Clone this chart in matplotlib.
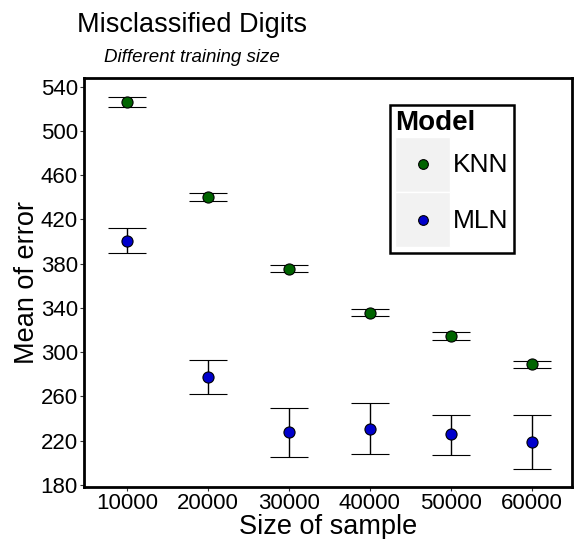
import matplotlib.pyplot as plt
from matplotlib.legend_handler import HandlerBase
from matplotlib.lines import Line2D
from matplotlib.patches import Rectangle

plt.rcParams["font.family"] = ["Liberation Sans", "DejaVu Sans"]

sizes = [10000, 20000, 30000, 40000, 50000, 60000]

knn_mean = [526.4, 440.3, 375.3, 335.5, 314.6, 289.1]
knn_low = [522.2, 436.7, 372.4, 332.8, 311.2, 286.1]
knn_high = [530.5, 444.4, 378.4, 338.6, 317.9, 292.1]

mln_mean = [400.8, 277.7, 227.4, 230.7, 225.6, 218.4]
mln_low = [389.4, 262.2, 204.9, 207.6, 207.3, 194.1]
mln_high = [412.5, 293.0, 249.8, 254.1, 242.9, 242.7]


class KeyHandler(HandlerBase):
    # grey key box with the point drawn in the middle, like ggplot
    def create_artists(self, legend, orig_handle, xdescent, ydescent,
                       width, height, fontsize, trans):
        rect = Rectangle((-xdescent, -ydescent), width, height,
                         facecolor="#F2F2F2", edgecolor="white", lw=1,
                         transform=trans)
        dot = Line2D([width / 2 - xdescent], [height / 2 - ydescent],
                     marker="o", ls="none", ms=7,
                     mfc=orig_handle.get_markerfacecolor(), mec="black",
                     mew=0.8, transform=trans)
        return [rect, dot]


fig = plt.figure(figsize=(5.75, 5.39), dpi=100)
ax = fig.add_axes([84 / 575, 1 - 487 / 539, 488 / 575, 409 / 539])

series = [
    ("KNN", knn_mean, knn_low, knn_high, "#006400"),
    ("MLN", mln_mean, mln_low, mln_high, "#0000CC"),
]
handles = []
for name, mean, low, high, col in series:
    yerr = [[m - l for m, l in zip(mean, low)], [h - m for m, h in zip(mean, high)]]
    cont = ax.errorbar(sizes, mean, yerr=yerr, fmt="o", ms=8, mfc=col,
                       mec="black", mew=0.8, ecolor="black", elinewidth=1,
                       capsize=14, capthick=1, label=name, zorder=3)
    handles.append(cont[0])

ax.set_xlim(4700, 65000)
ax.set_ylim(178, 548)
ax.set_xticks(sizes)
ax.set_yticks(range(180, 541, 40))
ax.tick_params(labelsize=16, length=3, width=0.8, color="#333333", pad=1.5)
ax.tick_params(axis="x", pad=1)
for s in ax.spines.values():
    s.set_linewidth(2)

ax.set_xlabel("Size of sample", fontsize=19.5, labelpad=0)
ax.set_ylabel("Mean of error", fontsize=19.5, labelpad=0)

fig.text(77 / 575, 1 - 25 / 539, "Misclassified Digits", fontsize=19.5,
         ha="left", va="center")
fig.text(104 / 575, 1 - 57 / 539, "Different training size", fontsize=13.5,
         style="italic", ha="left", va="center")

leg = ax.legend(handles=handles, labels=["KNN", "MLN"], title="Model",
                handler_map={Line2D: KeyHandler()},
                loc="upper left", bbox_to_anchor=(390 / 575, 1 - 105 / 539),
                bbox_transform=fig.transFigure, borderaxespad=0,
                fontsize=19, title_fontproperties={"weight": "bold", "size": 20},
                handlelength=2.08, handleheight=2.83, handletextpad=0.1,
                labelspacing=0.02, borderpad=0.2, fancybox=False,
                framealpha=1, edgecolor="black", alignment="left")
leg.get_frame().set_linewidth(1.8)

fig.savefig("out.png", dpi=100)
